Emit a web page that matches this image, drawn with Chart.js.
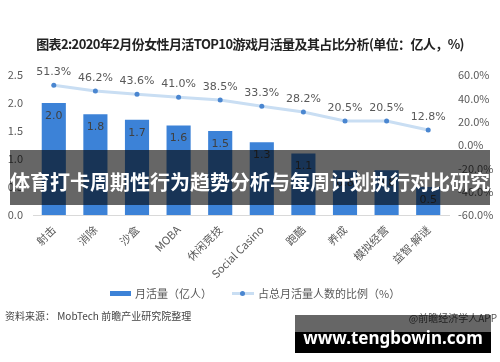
<!DOCTYPE html>
<html>
<head>
<meta charset="utf-8">
<script src="https://cdn.jsdelivr.net/npm/chart.js@4"></script>
<style>
  html, body { margin: 0; padding: 0; background: #fff; }
  body { width: 500px; height: 362px; position: relative; overflow: hidden;
         font-family: "Noto Sans CJK SC", "DejaVu Sans", sans-serif; }
  #chart { position: absolute; left: 0; top: 0; }
  .title { position: absolute; left: 0; width: 500px; top: 34px; text-align: center;
           font-size: 13px; font-weight: bold; color: #222; letter-spacing: -0.6px; }
  .legend { position: absolute; top: 285px; left: 110px; font-size: 11px; color: #595959;
            display: flex; align-items: center; white-space: nowrap; }
  .legend .box { width: 21px; height: 5px; background: #3c82d7; margin-right: 4px; }
  .legend .line { position: relative; width: 22px; height: 3px; background: #c9def3; margin: 0 4px 0 20px; }
  .legend .line::after { content: ''; position: absolute; left: 8px; top: -1px; width: 5px; height: 5px;
                         border-radius: 50%; background: #4a86d0; }
  .source { position: absolute; top: 308px; left: 5px; font-size: 10px; color: #444; }
  .credit { position: absolute; top: 310px; right: 3px; font-size: 10px; color: #555; }
  .banner { position: absolute; left: 10px; top: 150px; width: 480px; height: 55px;
            background: rgba(0,0,0,0.6); color: #fff; font-size: 20px; font-weight: bold;
            line-height: 20px; white-space: nowrap; }
  .banner span { position: absolute; left: 0; top: 22px; }
  .site { position: absolute; left: 295px; top: 315px; width: 196px; height: 38px; }
  .site .top { height: 17px; background: rgba(0,0,0,0.6); }
  .site .bot { height: 21px; background: #000; }
  .site span { position: absolute; left: 0; width: 196px; top: 13px; text-align: center;
               color: #fff; font-family: "Noto Sans", "DejaVu Sans", sans-serif;
               font-size: 17px; font-weight: bold; line-height: 20px; }
</style>
</head>
<body>
<canvas id="chart" width="500" height="362"></canvas>
<div class="title">图表2:2020年2月份女性月活TOP10游戏月活量及其占比分析(单位：亿人，%)</div>
<div class="legend"><div class="box"></div>月活量（亿人）<div class="line"></div>占总月活量人数的比例（%）</div>
<div class="source">资料来源： MobTech 前瞻产业研究院整理</div>
<div class="credit">@前瞻经济学人APP</div>
<div class="banner"><span>体育打卡周期性行为趋势分析与每周计划执行对比研究</span></div>
<div class="site"><div class="top"></div><div class="bot"></div><span>www.tengbowin.com</span></div>

<script>
/* ─── Data ───────────────────────────────────────────────────── */
const categories = ['射击', '消除', '沙盒', 'MOBA', '休闲竞技', 'Social Casino', '跑酷', '养成', '模拟经营', '益智-解谜'];
const monthlyActive = [2.0, 1.8, 1.7, 1.6, 1.5, 1.3, 1.1, 0.8, 0.8, 0.5];
const shareOfTotal = [51.3, 46.2, 43.6, 41.0, 38.5, 33.3, 28.2, 20.5, 20.5, 12.8];
const leftTicks = [0, 0.5, 1.0, 1.5, 2.0, 2.5];
const rightTicks = [-60, -40, -20, 0, 20, 40, 60];

/* ─── Colors ─────────────────────────────────────────────────── */
const BAR_COLOR = '#3c82d7';
const LINE_COLOR = '#c9def3';
const POINT_COLOR = '#4a86d0';
const TEXT_COLOR = '#595959';

Chart.defaults.font.family = '"Noto Sans CJK SC", "DejaVu Sans", sans-serif';
Chart.defaults.font.size = 11;
Chart.defaults.color = TEXT_COLOR;

/* ─── Value labels ───────────────────────────────────────────── */
const valueLabels = {
  id: 'valueLabels',
  afterDatasetsDraw(chart) {
    const { ctx } = chart;
    ctx.save();
    ctx.font = '11px "DejaVu Sans", sans-serif';
    ctx.textAlign = 'center';
    ctx.textBaseline = 'middle';

    chart.getDatasetMeta(0).data.forEach((bar, i) => {
      ctx.fillStyle = '#404040';
      ctx.fillText(monthlyActive[i].toFixed(1), bar.x, bar.y + 13);
    });
    chart.getDatasetMeta(1).data.forEach((pt, i) => {
      ctx.fillStyle = TEXT_COLOR;
      ctx.fillText(shareOfTotal[i].toFixed(1) + '%', pt.x, pt.y - 13);
    });
    ctx.restore();
  },
};

/* ─── Chart ──────────────────────────────────────────────────── */
new Chart(document.getElementById('chart'), {
  data: {
    labels: categories,
    datasets: [
      {
        type: 'bar',
        data: monthlyActive,
        backgroundColor: BAR_COLOR,
        barPercentage: 0.58,
        categoryPercentage: 1,
        yAxisID: 'y',
        order: 2,
      },
      {
        type: 'line',
        data: shareOfTotal,
        borderColor: LINE_COLOR,
        borderWidth: 3,
        pointRadius: 2.5,
        pointBackgroundColor: POINT_COLOR,
        pointBorderWidth: 0,
        tension: 0,
        yAxisID: 'y1',
        order: 1,
      },
    ],
  },
  options: {
    responsive: false,
    animation: false,
    layout: { padding: { top: 75, left: 0, right: 0, bottom: 0 } },
    plugins: { legend: { display: false }, tooltip: { enabled: false } },
    scales: {
      x: {
        grid: { display: false, drawTicks: false },
        border: { color: '#d9d9d9' },
        ticks: { maxRotation: 45, minRotation: 45, padding: 8, autoSkip: false, color: TEXT_COLOR },
        afterFit: s => { s.height = 147; },
      },
      y: {
        position: 'left',
        min: 0, max: 2.5,
        grid: { display: false, drawTicks: false },
        border: { display: false },
        afterBuildTicks: s => { s.ticks = leftTicks.map(v => ({ value: v })); },
        ticks: { padding: 10, callback: v => v.toFixed(1) },
        afterFit: s => { s.width = 33; },
      },
      y1: {
        position: 'right',
        min: -60, max: 60,
        grid: { display: false, drawTicks: false },
        border: { display: false },
        afterBuildTicks: s => { s.ticks = rightTicks.map(v => ({ value: v })); },
        ticks: { padding: 9, callback: v => v.toFixed(1) + '%' },
        afterFit: s => { s.width = 51; },
      },
    },
  },
  plugins: [valueLabels],
});
</script>
</body>
</html>
